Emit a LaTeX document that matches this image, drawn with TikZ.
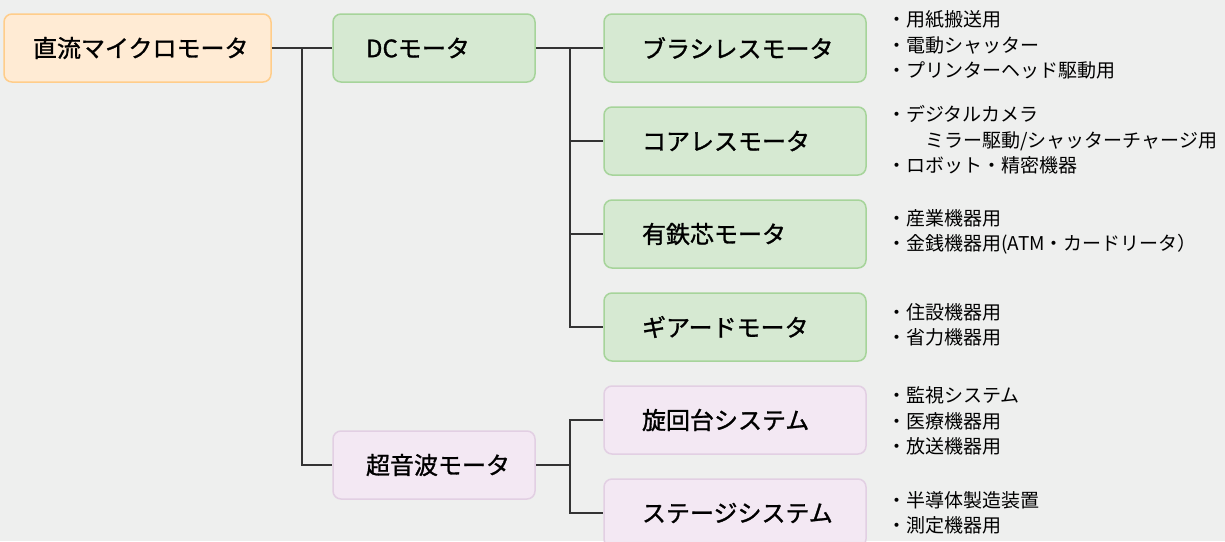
\documentclass[tikz,border=0pt]{standalone}
\usepackage{fontspec}
\setmainfont{Noto Sans CJK JP}
\newfontfamily\boxfont[FakeBold=1.2]{Noto Sans CJK JP}
\definecolor{bg}{HTML}{EEEFEE}
\definecolor{orF}{HTML}{FFEBD4}
\definecolor{orB}{HTML}{FFCD8A}
\definecolor{grF}{HTML}{D6E9D2}
\definecolor{grB}{HTML}{A6D49A}
\definecolor{puF}{HTML}{F3E8F3}
\definecolor{puB}{HTML}{E2CFE3}
\definecolor{ln}{HTML}{333333}
\begin{document}
\begin{tikzpicture}[x=1pt,y=-1pt,
  box/.style={rounded corners=8pt, line width=1.5pt, minimum height=68pt, align=left,
    font=\boxfont\fontsize{24}{28}\selectfont, inner ysep=0pt},
  rootbox/.style={box, draw=orB, fill=orF, text width=209pt, inner xsep=29pt},
  midg/.style={box, draw=grB, fill=grF, text width=136pt, inner xsep=33pt},
  midp/.style={box, draw=puB, fill=puF, text width=136pt, inner xsep=33pt},
  leafg/.style={box, draw=grB, fill=grF, text width=186pt, inner xsep=38pt},
  leafp/.style={box, draw=puB, fill=puF, text width=186pt, inner xsep=38pt},
  lst/.style={anchor=west, align=left, inner sep=0pt, font=\fontsize{19}{25.5}\selectfont},
  conn/.style={draw=ln, line width=1.5pt}]
\fill[bg] (0,0) rectangle (1225,541);
\useasboundingbox (0,0) rectangle (1225,541);

\node[rootbox] (root) at (137.5,48) {直流マイクロモータ};
\node[midg] (dc) at (434,48) {DCモータ};
\node[midp] (us) at (434,465) {超音波モータ};

\node[leafg] (b1) at (735,48) {ブラシレスモータ};
\node[leafg] (b2) at (735,141) {コアレスモータ};
\node[leafg] (b3) at (735,234) {有鉄芯モータ};
\node[leafg] (b4) at (735,327) {ギアードモータ};
\node[leafp] (u1) at (735,420) {旋回台システム};
\node[leafp] (u2) at (735,513) {ステージシステム};

\coordinate (j1) at (302,48);
\coordinate (j2) at (570,48);
\coordinate (j3) at (570,465);

\draw[conn] (root.east) -- (dc.west);
\draw[conn] (j1) |- (us.west);
\draw[conn] (dc.east) -- (b1.west);
\draw[conn] (j2) |- (b4.west);
\draw[conn] (j2 |- b2.west) -- (b2.west);
\draw[conn] (j2 |- b3.west) -- (b3.west);
\draw[conn] (us.east) -- (j3);
\draw[conn] (j3) |- (u1.west);
\draw[conn] (j3) |- (u2.west);

\node[lst] (l1) at (887,45) {・用紙搬送用\\・電動シャッター\\・プリンターヘッド駆動用};
\node[lst] (l2) at (887,140) {・デジタルカメラ\\\hspace*{2em}ミラー駆動/シャッターチャージ用\\・ロボット・精密機器};
\node[lst] (l3) at (887,232) {・産業機器用\\・金銭機器用(ATM・カードリータ）};
\node[lst] (l4) at (887,325) {・住設機器用\\・省力機器用};
\node[lst] (l5) at (887,421) {・監視システム\\・医療機器用\\・放送機器用};
\node[lst] (l6) at (887,513) {・半導体製造装置\\・測定機器用};
\end{tikzpicture}
\end{document}
